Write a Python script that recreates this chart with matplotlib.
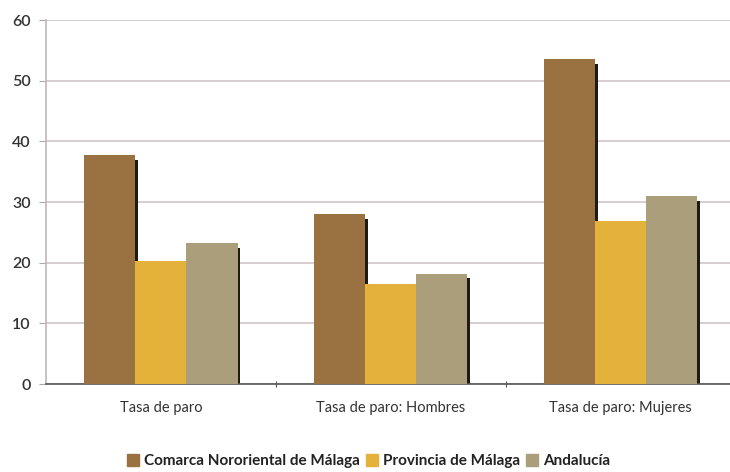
import numpy as np
import matplotlib as mpl
mpl.use('Agg')
import matplotlib.pyplot as plt
from matplotlib.patches import Patch

categories = ["Tasa de paro", "Tasa de paro: Hombres", "Tasa de paro: Mujeres"]
series_names = ["Comarca Nororiental de Málaga", "Provincia de Málaga", "Andalucía"]
comarca = [37.8, 28.0, 53.6]
provincia = [20.3, 16.5, 26.9]
andalucia = [23.2, 18.2, 31.0]
colors = ["#9a7140", "#e4b13a", "#ab9f7b"]

plt.rcParams['font.family'] = ['Lato', 'DejaVu Sans']

fig = plt.figure(figsize=(7.30, 4.72), dpi=100)
ax = fig.add_axes([46/730, 1 - 384/472, 1 - 46/730, 364/472])

x = np.arange(len(categories))
w = 0.222
data = [comarca, provincia, andalucia]
for i, vals in enumerate(data):
    pos = x + (i - 1) * w
    # dark shadow on the right side
    if i != 1:
        ax.bar(pos + 0.012, np.array(vals) - 0.8, w, bottom=0, color="#1e1a16", zorder=2)
    ax.bar(pos, vals, w, color=colors[i], zorder=3)

ax.set_ylim(0, 60)
ax.set_xlim(-0.5, 2.475)
ax.set_yticks([0, 10, 20, 30, 40, 50, 60])
ax.yaxis.grid(True, color="#cfc6c6", linewidth=1.2, zorder=0)
ax.set_axisbelow(True)

ax.set_xticks([0.5, 1.5], minor=False)
ax.set_xticklabels([])
ax.set_xticks(x, minor=True)
ax.set_xticklabels(categories, minor=True, fontsize=10.5, color="#333333")
ax.tick_params(axis='x', which='minor', length=0, pad=12)
ax.tick_params(axis='x', which='major', length=5, direction='inout', color="#555555")
ax.tick_params(axis='y', length=5, color="#aaaaaa", labelsize=11.5, labelcolor="#333333", pad=6)
for t in ax.get_yticklabels():
    t.set_fontweight('semibold')

for s in ["top", "right"]:
    ax.spines[s].set_visible(False)
ax.spines["left"].set_color("#c0b8b8")
ax.spines["left"].set_linewidth(1.2)
ax.spines["bottom"].set_color("#555555")
ax.spines["bottom"].set_linewidth(1.2)

handles = [Patch(color=c) for c in colors]
leg = fig.legend(handles, series_names, loc="center", bbox_to_anchor=(0.505, 1 - 461/472),
                 ncol=3, frameon=False, handlelength=0.8, handleheight=0.8,
                 handletextpad=0.3, columnspacing=0.4, prop={'weight': 'bold', 'size': 11})
for t in leg.get_texts():
    t.set_color("#222222")

fig.savefig("out.png", dpi=100)
